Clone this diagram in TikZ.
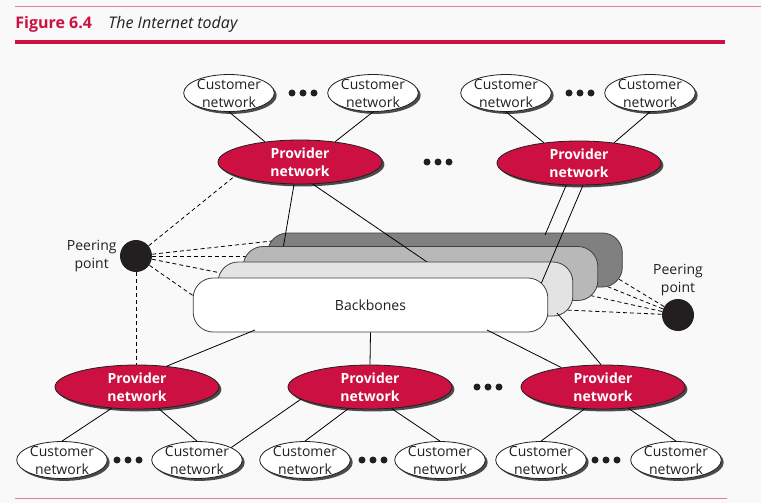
\documentclass[tikz,border=0pt]{standalone}
\usepackage{fontspec}
\setmainfont{Open Sans}
\usepackage{tikz}
\usetikzlibrary{positioning,shadows,shapes.geometric}

\definecolor{provred}{RGB}{204,16,66}
\definecolor{rulepink}{RGB}{230,125,152}
\definecolor{bggray}{RGB}{249,249,249}
\definecolor{inkgray}{RGB}{35,31,32}

\begin{document}
\begin{tikzpicture}[x=0.75pt, y=-0.75pt, line width=0.6pt, text=inkgray,
  font=\fontsize{10.5}{13.5}\selectfont,
  customer/.style={ellipse, draw=inkgray, fill=white, inner xsep=0pt, inner ysep=-0.8pt, align=center, drop shadow={shadow xshift=1.8pt, shadow yshift=-1.8pt, fill=black!70, opacity=1}},
  provider/.style={ellipse, draw=inkgray, fill=provred, text=white, font=\fontsize{10.5}{13.5}\selectfont\bfseries, minimum width=123pt, minimum height=33pt, inner sep=0pt, align=center, drop shadow={shadow xshift=1.8pt, shadow yshift=-1.8pt, fill=black!70, opacity=1}},
  backbone/.style={rectangle, draw=black!75, rounded corners=15pt, minimum width=266pt, minimum height=40.5pt},
  peer/.style={circle, fill=inkgray, minimum size=24pt, inner sep=0pt},
  peerlabel/.style={align=center, inner sep=2pt},
  peering/.style={dash pattern=on 3pt off 2.2pt}]

  \fill[bggray] (0,0) rectangle (761,503);
  \useasboundingbox (0,0) rectangle (761,503);

  % title and rules
  \draw[rulepink, line width=0.75pt] (15,7) -- (761,7);
  \node[anchor=base west, inner sep=0pt, text=provred, font=\fontsize{12}{14}\selectfont\bfseries] (fignum) at (15,29) {Figure 6.4};
  \node[anchor=base west, inner sep=0pt, font=\fontsize{12}{14}\selectfont\itshape] (figtitle) at (108,29) {The Internet today};
  \draw[provred, line width=2.4pt] (15,42) -- (725,42);
  \draw[rulepink, line width=0.75pt] (15,498) -- (727,498);

  % top row
  \node[customer] (c1) at (229,93) {Customer\\network};
  \node[customer] (c2) at (373,93) {Customer\\network};
  \node[customer] (c3) at (506,93) {Customer\\network};
  \node[customer] (c4) at (650,93) {Customer\\network};
  \node[provider] (tp1) at (300,162) {Provider\\network};
  \node[provider] (tp2) at (579,163) {Provider\\network};

  % bottom row
  \node[provider] (bp1) at (137,387) {Provider\\network};
  \node[provider] (bp2) at (370,387) {Provider\\network};
  \node[provider] (bp3) at (603,387) {Provider\\network};
  \node[customer] (bc1) at (62,460) {Customer\\network};
  \node[customer] (bc2) at (197,460) {Customer\\network};
  \node[customer] (bc3) at (305,460) {Customer\\network};
  \node[customer] (bc4) at (440,460) {Customer\\network};
  \node[customer] (bc5) at (541,460) {Customer\\network};
  \node[customer] (bc6) at (676,460) {Customer\\network};

  % peering points
  \node[peer] (pl) at (136,256) {};
  \node[peerlabel, left=0pt of pl] (pll) {Peering\\point};
  \node[peer] (pr) at (678,315) {};
  \node[peerlabel, above=0pt of pr] (prl) {Peering\\point};

  \foreach \x/\y in {303/93, 580/93, 438/162, 488/387, 128/460, 373/460, 606/460}
    \foreach \d in {-11,0,11}
      \fill[inkgray] (\x+\d,\y) circle (3.5);

  % customer links
  \draw (c1.south) -- (tp1.150);
  \draw (c2.south) -- (tp1.30);
  \draw (c3.south) -- (tp2.150);
  \draw (c4.south) -- (tp2.30);
  \draw (bp1.-140) -- (bc1.north);
  \draw (bp1.-45) -- (bc2.north);
  \draw (bp2.-170) -- (bc2.20);
  \draw (bp2.-135) -- (bc3.north);
  \draw (bp2.-45) -- (bc4.north);
  \draw (bp3.-130) -- (bc5.north);
  \draw (bp3.-40) -- (bc6.north);

  % ends on the backbones
  \coordinate (l4) at (272,241);
  \coordinate (l3) at (247,256);
  \coordinate (l2) at (221,273);
  \coordinate (l1) at (195,297);
  \coordinate (r4a) at (617,278);
  \coordinate (r4b) at (606,286);
  \coordinate (r3) at (588,295);
  \coordinate (r2) at (565,310);
  \coordinate (t1a) at (283,249);
  \coordinate (t1b) at (430,264);
  \coordinate (t2a) at (545,235);
  \coordinate (t2b) at (541,284);
  \coordinate (b1a) at (255,330);
  \coordinate (b1c) at (487,330);
  \coordinate (b2a) at (557,313);

  % peering links
  \draw[peering] (pl) -- (tp1.-168);
  \foreach \e in {l4,l3,l2,l1}
    \draw[peering] (pl) -- (\e);
  \draw[peering] (pl.south) -- (pl.south |- bp1.north);
  \foreach \e in {r4a,r4b,r3,r2}
    \draw[peering] (pr) -- (\e);

  % backbones, back to front
  \node[backbone, fill=black!50] (bb4) at (445,260) {};
  \draw (tp1.-105) -- (t1a);
  \draw (tp2.-120) -- (t2a);
  \node[backbone, fill=black!28] (bb3) at (420.5,273.5) {};
  \draw (tp1.-60) -- (t1b);
  \node[backbone, fill=black!11] (bb2) at (395.5,289) {};
  \draw (tp2.-80) -- (t2b);
  \draw (b2a) -- (bp3.95);
  \node[backbone, fill=white] (bb1) at (370.5,305) {Backbones};

  \draw (b1a) -- (bp1.35);
  \draw (bb1.south) -- (bp2.north);
  \draw (b1c) -- (bp3.155);
\end{tikzpicture}
\end{document}
